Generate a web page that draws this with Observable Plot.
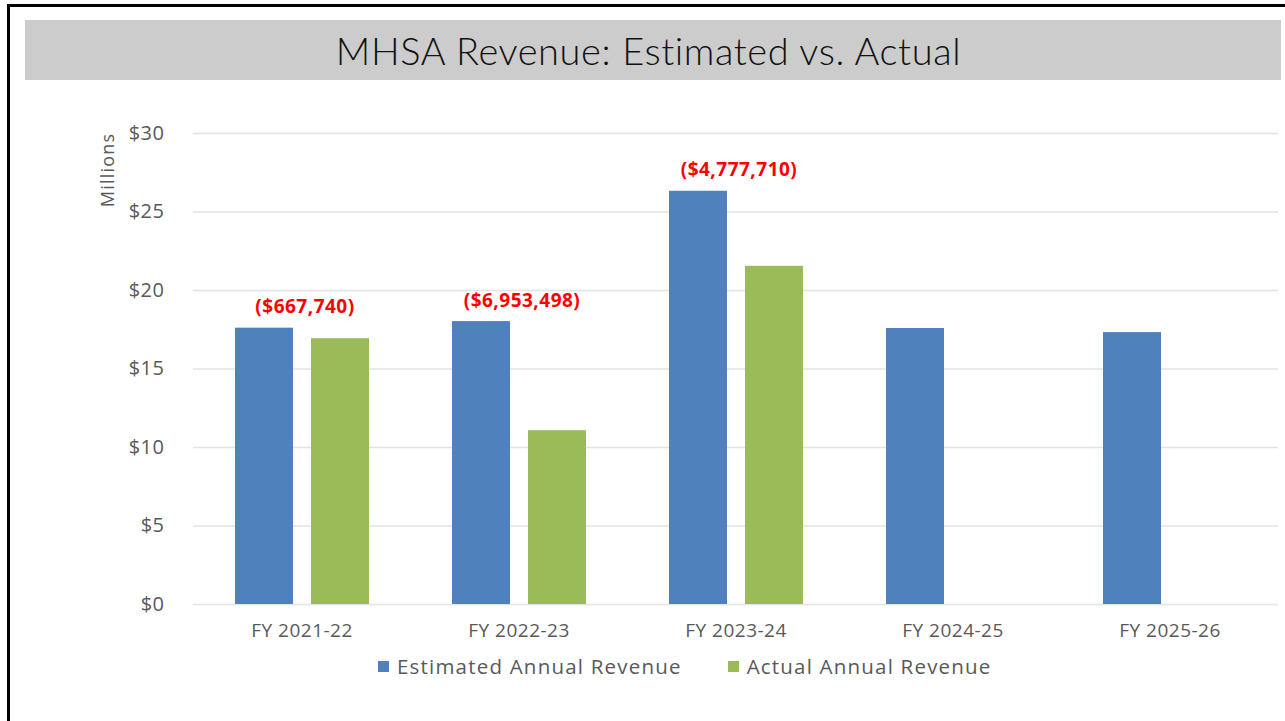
<!DOCTYPE html>
<html>
<head>
<meta charset="utf-8">
<script src="https://cdn.jsdelivr.net/npm/d3@7"></script>
<script src="https://cdn.jsdelivr.net/npm/@observablehq/plot@0.6"></script>
<style>
  html, body { margin: 0; padding: 0; background: #fff; width: 1285px; height: 721px; overflow: hidden; }
  #chart { position: absolute; left: 0; top: 0; }
  #frame { position: absolute; left: 7px; top: 4px; width: 1300px; height: 740px;
           border-left: 3px solid #000; border-top: 3px solid #000; pointer-events: none; }
  #titleband { position: absolute; left: 25px; top: 20px; width: 1256px; height: 60px; background: #cccccc;
               font-family: Lato, "Open Sans", sans-serif; font-weight: 300; font-size: 38px; color: #111;
               letter-spacing: 0.6px; line-height: 60px; text-align: center; box-sizing: border-box; padding-right: 9px; }
  #ylabel { position: absolute; left: 107px; top: 170px; transform: translate(-50%, -50%) rotate(-90deg);
            font-family: "Open Sans", sans-serif; font-size: 18px; letter-spacing: 1.2px; color: #595959; white-space: nowrap; }
  #legend { position: absolute; left: 378px; top: 652px; display: flex; align-items: center;
            font-family: "Open Sans", sans-serif; font-size: 20.5px; letter-spacing: 1.2px; color: #595959; white-space: nowrap; }
  .sw { display: inline-block; width: 11px; height: 11px; margin-right: 8px; }
  .item { display: flex; align-items: center; margin-right: 46px; }
</style>
</head>
<body>
<div id="chart"></div>
<div id="frame"></div>
<div id="titleband">MHSA Revenue: Estimated vs. Actual</div>
<div id="ylabel">Millions</div>
<div id="legend"></div>
<script>
const years = ["FY 2021-22", "FY 2022-23", "FY 2023-24", "FY 2024-25", "FY 2025-26"];
const seriesNames = ["Estimated Annual Revenue", "Actual Annual Revenue"];
const seriesColors = ["#4f81bd", "#9bbb59"];
const estimated = [17.60, 18.02, 26.32, 17.58, 17.32];
const actual = [16.93, 11.07, 21.54, null, null];
const varianceLabels = ["($667,740)", "($6,953,498)", "($4,777,710)", null, null];
const yTicks = [0, 5, 10, 15, 20, 25, 30];

const rows = [];
years.forEach((yr, i) => {
  if (estimated[i] != null) rows.push({year: yr, series: seriesNames[0], value: estimated[i]});
  if (actual[i] != null) rows.push({year: yr, series: seriesNames[1], value: actual[i]});
});
const annots = years.map((yr, i) => ({year: yr, value: estimated[i], label: varianceLabels[i]}))
  .filter(d => d.label != null);

const chart = Plot.plot({
  width: 1285,
  height: 650,
  marginTop: 133,
  marginBottom: 46,
  marginLeft: 192,
  marginRight: 7,
  style: {background: "transparent", fontFamily: "'Open Sans', sans-serif", letterSpacing: "0.5px"},
  fx: {domain: years, padding: 0, label: null},
  x: {domain: seriesNames, paddingInner: 0.237, paddingOuter: 0.54, axis: null},
  y: {domain: [0, 30], label: null},
  color: {domain: seriesNames, range: seriesColors},
  marks: [
    Plot.gridY(yTicks, {stroke: "#e3e3e3", strokeOpacity: 1, strokeWidth: 1.3}),
    Plot.axisY(yTicks, {tickSize: 0, tickPadding: 29, tickFormat: d => "$" + d, fontSize: 20, fill: "#595959", label: null}),
    Plot.axisFx({anchor: "bottom", tickSize: 0, tickPadding: 19, fontSize: 19, fill: "#595959", label: null}),
    Plot.barY(rows, {fx: "year", x: "series", y: "value", fill: "series"}),
    Plot.text(annots, {fx: "year", y: "value", text: "label", dy: -21, dx: 3, fill: "#ff0000",
      fontWeight: "bold", fontSize: 19})
  ]
});
document.getElementById("chart").appendChild(chart);

const legend = document.getElementById("legend");
seriesNames.forEach((name, i) => {
  const item = document.createElement("div");
  item.className = "item";
  const sw = document.createElement("span");
  sw.className = "sw";
  sw.style.background = seriesColors[i];
  item.appendChild(sw);
  item.appendChild(document.createTextNode(name));
  legend.appendChild(item);
});
</script>
</body>
</html>
